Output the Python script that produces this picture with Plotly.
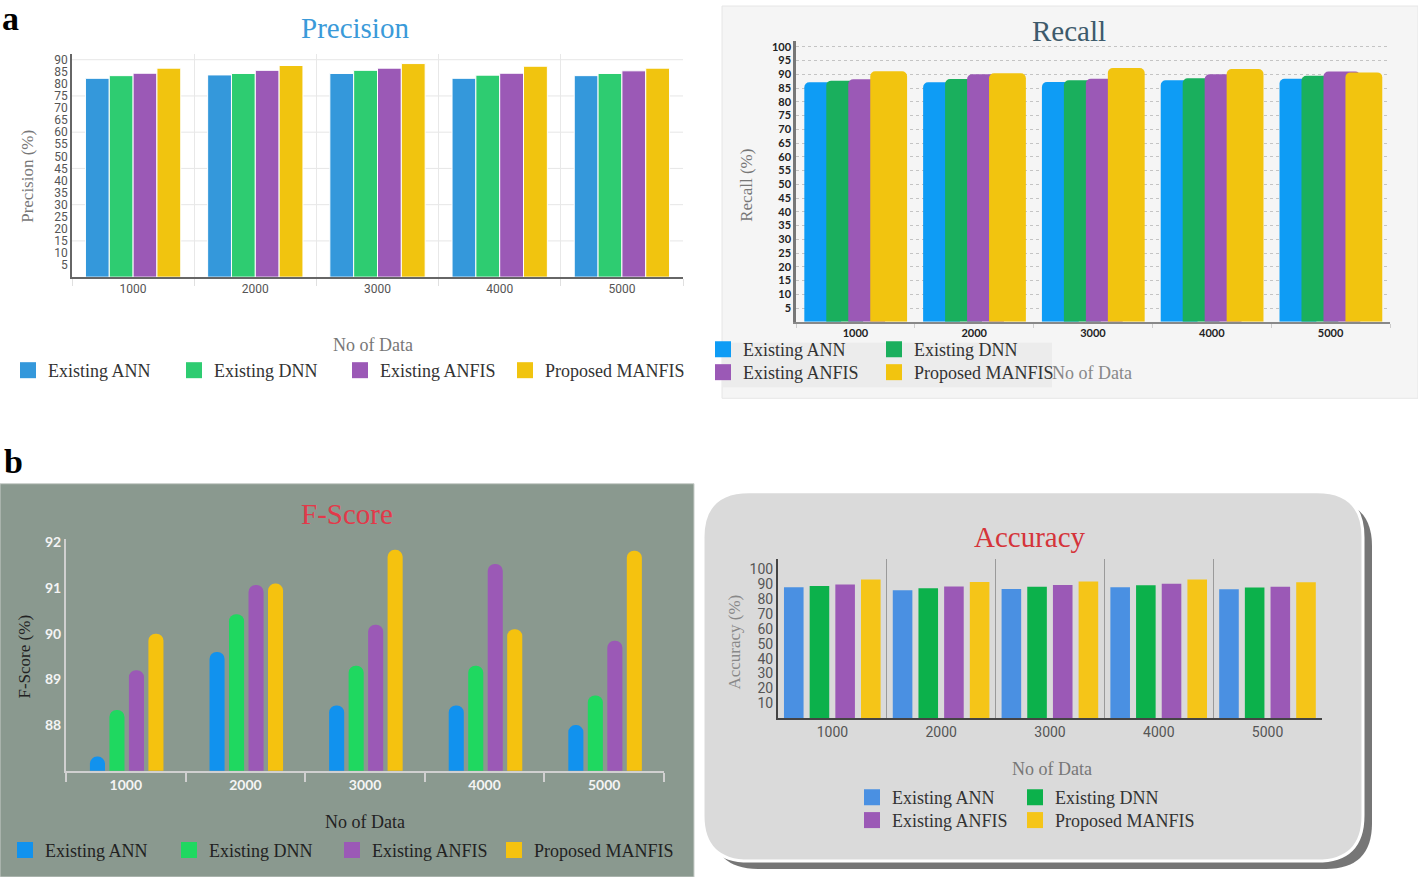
import plotly.graph_objects as go

W, H = 1418, 877

categories = ["1000", "2000", "3000", "4000", "5000"]
series_names = ["Existing ANN", "Existing DNN", "Existing ANFIS", "Proposed MANFIS"]

precision_ann = [82.3, 83.7, 84.3, 82.3, 83.4]
precision_dnn = [83.4, 84.3, 85.6, 83.6, 84.3]
precision_anfis = [84.4, 85.6, 86.5, 84.4, 85.4]
precision_manfis = [86.5, 87.6, 88.4, 87.3, 86.5]

recall_ann = [87.1, 87.1, 87.2, 87.8, 88.4]
recall_dnn = [87.7, 88.3, 87.8, 88.6, 89.5]
recall_anfis = [88.2, 90.0, 88.4, 90.0, 91.0]
recall_manfis = [91.1, 90.4, 92.3, 91.9, 90.7]

fscore_ann = [87.31, 89.6, 88.43, 88.43, 88.0]
fscore_dnn = [88.33, 90.43, 89.3, 89.3, 88.65]
fscore_anfis = [89.2, 91.07, 90.2, 91.53, 89.85]
fscore_manfis = [90.0, 91.1, 91.84, 90.1, 91.82]

accuracy_ann = [88.1, 86.1, 87.0, 88.1, 86.8]
accuracy_dnn = [89.0, 87.5, 88.4, 89.5, 87.9]
accuracy_anfis = [89.9, 88.6, 89.7, 90.4, 88.4]
accuracy_manfis = [93.3, 91.7, 91.9, 93.3, 91.5]

SERIF = "Liberation Serif"


def px(x):
    return x / W


def py(y):
    return 1 - y / H


fig = go.Figure()

# ---------------- panel styles ----------------
# legend_pos: (text start x, row centre y) for each series' legend entry, in pixels
panels = [
    dict(data=[precision_ann, precision_dnn, precision_anfis, precision_manfis],
         colors=["#3498db", "#2ecc71", "#9b59b6", "#f1c40f"], xa="x", ya="y",
         width=0.195, start=-0.39, step=0.195, line=dict(color="white", width=1), radius=0,
         legend_pos=[(46, 367), (212, 367), (378, 367), (543, 367)], legend_color="#333"),
    dict(data=[recall_ann, recall_dnn, recall_anfis, recall_manfis],
         colors=["#0e9cf5", "#1aaf5d", "#9b59b6", "#f2c40f"], xa="x2", ya="y2",
         width=0.31, start=-0.43, step=0.185, line=dict(width=0), radius=5,
         legend_pos=[(741, 346), (912, 346), (741, 369), (912, 369)], legend_color="#333"),
    dict(data=[fscore_ann, fscore_dnn, fscore_anfis, fscore_manfis],
         colors=["#1192ee", "#1fd860", "#9b59b6", "#f5c20f"], xa="x3", ya="y3",
         width=0.126, start=-0.30, step=0.163, line=dict(width=0), radius="50%",
         legend_pos=[(43, 850), (207, 850), (370, 850), (532, 850)], legend_color="#222"),
    dict(data=[accuracy_ann, accuracy_dnn, accuracy_anfis, accuracy_manfis],
         colors=["#4a90e2", "#0cb14b", "#9b59b6", "#f5c518"], xa="x4", ya="y4",
         width=0.18, start=-0.445, step=0.236, line=dict(width=0), radius=0,
         legend_pos=[(890, 797), (1053, 797), (890, 820), (1053, 820)], legend_color="#333"),
]

legends = {}
leg_index = 0
for p in panels:
    for i, (name, vals) in enumerate(zip(series_names, p["data"])):
        fig.add_trace(go.Bar(
            x=categories, y=vals, name=name,
            xaxis=p["xa"], yaxis=p["ya"],
            marker=dict(color=p["colors"][i], line=p["line"], cornerradius=p["radius"]),
            width=p["width"], offset=p["start"] + i * p["step"],
            showlegend=False, hoverinfo="x+y+name",
        ))
    # legend entries (one small legend per entry so each sits where the reference has it)
    for i, name in enumerate(series_names):
        leg_index += 1
        lname = "legend" if leg_index == 1 else f"legend{leg_index}"
        tx, ty = p["legend_pos"][i]
        legends[lname] = dict(
            x=px(tx - 38), y=py(ty), xanchor="left", yanchor="middle", orientation="h",
            bgcolor="rgba(0,0,0,0)", borderwidth=0,
            font=dict(family=SERIF, size=18, color=p["legend_color"]),
            itemclick=False, itemdoubleclick=False,
        )
        fig.add_trace(go.Scatter(
            x=[None], y=[None], mode="markers", name=name,
            xaxis=p["xa"], yaxis=p["ya"],
            marker=dict(symbol="square", size=16, color=p["colors"][i]),
            legend=lname, hoverinfo="skip",
        ))

# ---------------- axes ----------------
layout_axes = dict(
    xaxis=dict(domain=[px(72), px(683)], anchor="y", type="category", tickson="boundaries",
               showgrid=True, gridcolor="#e8e8e8", showline=True, linecolor="#666", linewidth=1.5,
               ticks="outside", ticklen=7, tickcolor="#e0e0e0",
               tickfont=dict(family="Roboto", size=12, color="#555"), fixedrange=True),
    yaxis=dict(domain=[py(273), py(48)], anchor="x", range=[0, 92.5],
               tickvals=list(range(5, 91, 5)), showgrid=False, zeroline=False,
               showline=True, linecolor="#666", linewidth=1.5, ticks="",
               tickfont=dict(family="Roboto", size=12, color="#555"), fixedrange=True),
    xaxis2=dict(domain=[px(796), px(1390)], anchor="y2", type="category", tickson="boundaries",
                showgrid=False, showline=True, linecolor="#888", linewidth=2,
                ticks="outside", ticklen=4, tickcolor="#ccc",
                tickfont=dict(family="Lato", size=11, color="#222", weight="bold"), fixedrange=True),
    yaxis2=dict(domain=[py(318), py(35)], anchor="x2", range=[0, 102.2],
                tickvals=list(range(5, 101, 5)), showgrid=True, gridcolor="#c4c4c4", griddash="dot",
                zeroline=False, showline=True, linecolor="#777", linewidth=2.5, ticks="",
                tickfont=dict(family="Lato", size=11, color="#222", weight="bold"), fixedrange=True),
    xaxis3=dict(domain=[px(66), px(664)], anchor="y3", type="category", tickson="boundaries",
                showgrid=False, showline=True, linecolor="#d0d0d0", linewidth=2,
                ticks="outside", ticklen=9, tickcolor="#d0d0d0", tickwidth=2,
                tickfont=dict(family="Lato", size=14, color="#f4f4f4", weight="bold"), fixedrange=True),
    yaxis3=dict(domain=[py(770), py(537)], anchor="x3", range=[87, 92.07],
                tickvals=[88, 89, 90, 91, 92], showgrid=False, zeroline=False,
                showline=True, linecolor="#d0d0d0", linewidth=2, ticks="",
                tickfont=dict(family="Lato", size=14, color="#f4f4f4", weight="bold"), fixedrange=True),
    xaxis4=dict(domain=[px(778), px(1322)], anchor="y4", type="category", tickson="boundaries",
                showgrid=True, gridcolor="#9a9a9a", showline=True, linecolor="#444", linewidth=2,
                ticks="",
                tickfont=dict(family="Roboto", size=14, color="#555"), fixedrange=True),
    yaxis4=dict(domain=[py(717), py(557)], anchor="x4", range=[0, 107],
                tickvals=list(range(10, 101, 10)), showgrid=False, zeroline=False,
                showline=True, linecolor="#444", linewidth=2, ticks="",
                tickfont=dict(family="Roboto", size=14, color="#555"), fixedrange=True),
)


# ---------------- backgrounds ----------------
def rounded_path(x0, y0, x1, y1, r):
    pts = [
        f"M {px(x0 + r)},{py(y0)}",
        f"L {px(x1 - r)},{py(y0)}",
        f"Q {px(x1)},{py(y0)} {px(x1)},{py(y0 + r)}",
        f"L {px(x1)},{py(y1 - r)}",
        f"Q {px(x1)},{py(y1)} {px(x1 - r)},{py(y1)}",
        f"L {px(x0 + r)},{py(y1)}",
        f"Q {px(x0)},{py(y1)} {px(x0)},{py(y1 - r)}",
        f"L {px(x0)},{py(y0 + r)}",
        f"Q {px(x0)},{py(y0)} {px(x0 + r)},{py(y0)}",
        "Z",
    ]
    return " ".join(pts)


shapes = [
    # recall panel background
    dict(type="rect", xref="paper", yref="paper", x0=px(722), x1=px(1418), y0=py(395), y1=py(0),
         fillcolor="#f5f5f5", line=dict(color="#e6e6e6", width=1), layer="below"),
    dict(type="rect", xref="paper", yref="paper", x0=px(722), x1=px(1052), y0=py(384), y1=py(339),
         fillcolor="#ececec", line=dict(width=0), layer="below"),
    # f-score panel background
    dict(type="rect", xref="paper", yref="paper", x0=px(0), x1=px(694), y0=py(877), y1=py(481),
         fillcolor="#8a998f", line=dict(color="#c8cdc9", width=1), layer="below"),
    # accuracy panel shadow + card
    dict(type="path", xref="paper", yref="paper", path=rounded_path(712, 498, 1372, 869, 46),
         fillcolor="#5e5e5e", line=dict(width=0), opacity=0.85, layer="below"),
    dict(type="path", xref="paper", yref="paper", path=rounded_path(703, 489, 1363, 861, 46),
         fillcolor="#dadada", line=dict(color="white", width=3), layer="below"),
]
# precision horizontal gridlines every 15
for g in range(15, 91, 15):
    shapes.append(dict(type="line", xref="x domain", yref="y", x0=0, x1=1, y0=g, y1=g,
                       line=dict(color="#e6e6e6", width=1), layer="below"))


# ---------------- annotations ----------------
def ann(text, x, y, size, color, family=SERIF, angle=0, weight="normal"):
    return dict(text=text, x=px(x), y=py(y), xref="paper", yref="paper", showarrow=False,
                xanchor="center", yanchor="middle", textangle=angle,
                font=dict(family=family, size=size, color=color, weight=weight))


annotations = [
    ann("a", 10, 13, 34, "#000", weight="bold"),
    ann("b", 13, 459, 34, "#000", weight="bold"),
    ann("Precision", 355, 22, 29, "#3a9ad9"),
    ann("Recall", 1069, 25, 29, "#3d5a6b"),
    ann("F-Score", 347, 511, 29, "#e2394a"),
    ann("Accuracy", 1030, 535, 29, "#d5343a"),
    ann("Precision (%)", 28, 172, 17, "#777", angle=-90),
    ann("Recall (%)", 747, 180, 17, "#777", angle=-90),
    ann("F-Score (%)", 25, 655, 17, "#222", angle=-90),
    ann("Accuracy (%)", 735, 641, 17, "#888", angle=-90),
    ann("No of Data", 373, 341, 18, "#777"),
    ann("No of Data", 1092, 370, 18, "#888"),
    ann("No of Data", 365, 822, 18, "#222"),
    ann("No of Data", 1052, 768, 18, "#777"),
]

fig.update_layout(
    width=W, height=H, margin=dict(l=0, r=0, t=0, b=0),
    paper_bgcolor="white", plot_bgcolor="rgba(0,0,0,0)",
    barmode="group", shapes=shapes, annotations=annotations,
    **legends,
    **layout_axes,
)

fig.write_html("out.html", config={"displayModeBar": False},
               post_script="document.body.style.margin='0';document.body.style.overflow='hidden';")
